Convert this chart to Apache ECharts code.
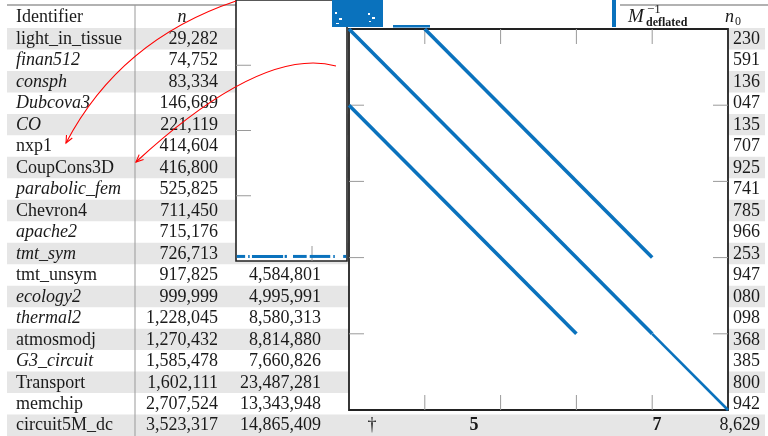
<!DOCTYPE html>
<html>
<head>
<meta charset="utf-8">
<script src="https://cdn.jsdelivr.net/npm/echarts@6/dist/echarts.min.js"></script>
<style>
  html, body { margin: 0; padding: 0; background: #fff; }
  #chart { width: 768px; height: 436px; }
</style>
</head>
<body>
<div id="chart"></div>
<script>
// ---- table data ----
const identifiers = ['light_in_tissue', 'finan512', 'consph', 'Dubcova3', 'CO', 'nxp1', 'CoupCons3D',
  'parabolic_fem', 'Chevron4', 'apache2', 'tmt_sym', 'tmt_unsym', 'ecology2', 'thermal2', 'atmosmodj',
  'G3_circuit', 'Transport', 'memchip', 'circuit5M_dc'];
const italicName = [false, true, true, true, true, false, false, true, false, true, true, false, true, true,
  false, true, false, false, false];
const nValues = [29282, 74752, 83334, 146689, 221119, 414604, 416800, 525825, 711450, 715176, 726713,
  917825, 999999, 1228045, 1270432, 1585478, 1602111, 2707524, 3523317];
// nnz column: only the rows below the small pattern panel are shown
const nnzValues = [null, null, null, null, null, null, null, null, null, null, null,
  4584801, 4995991, 8580313, 8814880, 7660826, 23487281, 13343948, 14865409];
// right-most column (n0), trailing digits that stay visible beside the large panel
const n0Tails = ['230', '591', '136', '047', '135', '707', '925', '741', '785', '966', '253', '947', '080',
  '098', '368', '385', '800', '942', '8,629'];
// summary marks in the last row
const footerMarks = ['\u2020', '5', '7'];

// ---- sparsity pattern of the large panel (block units, 5x5 blocks) ----
const blockCount = 5;
const blockTicks = [1, 2, 3, 4];
const mainDiagonal = [[0, 0], [4, 4]];
const mainDiagonalTail = [[4, 4], [5, 5]];
const upperBand = [[1, 0], [4, 3]];
const lowerBand = [[0, 1], [3, 4]];

// ---- small panel: ticks and scattered nonzeros along its last row (block units) ----
const smallRowTicks = [1, 2, 3];
const smallColTicks = [1];
const smallPanelRow = 3.93;
const smallPanelRuns = [[0.01, 0.12], [0.16, 0.18], [0.21, 0.62], [0.64, 0.67], [0.75, 0.93],
  [0.97, 1.24], [1.28, 1.30], [1.41, 1.45]];

// ---- partially visible pattern pieces along the top edge (page units) ----
const topPieces = [[332, 383, 0, 27], [393, 430, 25, 27.5], [612, 616, 0, 27]];
// white gaps inside the dense top piece
const topGaps = [[335, 337, 12, 14], [339, 342, 18, 20], [336, 339, 23, 24], [368, 370, 13, 15],
  [372, 375, 17, 19], [369, 371, 21, 22]];

// ---- annotation arrows: start, control point, end (page units) ----
const arrows = [
  [236, 1, 120, 40, 66, 143],
  [336, 66, 262, 46, 136, 162]
];

// ---- layout / style constants ----
const FONT = '"Liberation Serif", "Times New Roman", serif';
const TEXT = '#1a1a1a';
const SHADE = '#e6e6e6';
const BLUE = '#0a72bd';
const TICK = '#9a9a9a';
const TICK_LEN = 15;
const colIdLeft = 16, colNRight = 218, colNnzRight = 321, colN0Right = 760;
const shadeFrom = 7, shadeTo = 765;
const footerX = [372, 474, 657];
const footerBold = [false, true, true];

const fmt = v => v.toLocaleString('en-US');

function txt(x, y, s, align, font) {
  return { type: 'text', style: { x: x, y: y, text: s, align: align, verticalAlign: 'middle', font: font, fill: TEXT } };
}

function renderRow(params, api) {
  const i = api.value(1);
  const band = api.size([0, 1])[1];
  const yc = api.coord([0, i])[1];
  const X = v => api.coord([v, i])[0];
  const kids = [];
  if (i % 2 === 0) {
    kids.push({ type: 'rect', shape: { x: X(shadeFrom), y: yc - band / 2, width: X(shadeTo) - X(shadeFrom), height: band },
      style: { fill: SHADE } });
  }
  kids.push(txt(X(colIdLeft), yc + 0.5, identifiers[i], 'left', (italicName[i] ? 'italic ' : '') + '18px ' + FONT));
  kids.push(txt(X(colNRight), yc + 0.5, fmt(nValues[i]), 'right', '18px ' + FONT));
  if (nnzValues[i] != null) kids.push(txt(X(colNnzRight), yc + 0.5, fmt(nnzValues[i]), 'right', '18px ' + FONT));
  kids.push(txt(X(colN0Right), yc + 0.5, n0Tails[i], 'right', '18px ' + FONT));
  if (i === identifiers.length - 1) {
    footerMarks.forEach((m, k) => {
      kids.push(txt(X(footerX[k]), yc + 0.5, m, 'center', (footerBold[k] ? 'bold ' : '') + '18px ' + FONT));
    });
  }
  return { type: 'group', children: kids };
}

// short grey ticks pointing into a pattern panel; data item: [position, side]
// side 0 = bottom, 1 = top, 2 = left, 3 = right
function tickRenderer(xMax, yMax) {
  return function (params, api) {
    const v = api.value(0), side = api.value(1);
    let p, d;
    if (side === 0) { p = api.coord([v, yMax]); d = [0, -TICK_LEN]; }
    else if (side === 1) { p = api.coord([v, 0]); d = [0, TICK_LEN]; }
    else if (side === 2) { p = api.coord([0, v]); d = [TICK_LEN, 0]; }
    else { p = api.coord([xMax, v]); d = [-TICK_LEN, 0]; }
    return { type: 'line', shape: { x1: p[0], y1: p[1], x2: p[0] + d[0], y2: p[1] + d[1] },
      style: { stroke: TICK, lineWidth: 1 } };
  };
}

function renderRuns(params, api) {
  const a = api.coord([api.value(0), api.value(2)]);
  const b = api.coord([api.value(1), api.value(2)]);
  return { type: 'rect', shape: { x: a[0], y: a[1] - 1.5, width: Math.max(b[0] - a[0], 1.5), height: 3 }, style: { fill: BLUE } };
}

function pieceRenderer(color) {
  return function (params, api) {
    const a = api.coord([api.value(0), api.value(2)]);
    const b = api.coord([api.value(1), api.value(3)]);
    return { type: 'rect', shape: { x: a[0], y: a[1], width: b[0] - a[0], height: b[1] - a[1] }, style: { fill: color } };
  };
}

function renderArrow(params, api) {
  const p0 = api.coord([api.value(0), api.value(1)]);
  const c = api.coord([api.value(2), api.value(3)]);
  const p1 = api.coord([api.value(4), api.value(5)]);
  const dx = p1[0] - c[0], dy = p1[1] - c[1];
  const L = Math.hypot(dx, dy);
  const ux = dx / L, uy = dy / L;
  const hl = 8, ang = 0.42;
  const rot = (a) => [p1[0] - hl * (ux * Math.cos(a) - uy * Math.sin(a)), p1[1] - hl * (ux * Math.sin(a) + uy * Math.cos(a))];
  return {
    type: 'group',
    children: [
      { type: 'bezierCurve', shape: { x1: p0[0], y1: p0[1], cpx1: c[0], cpy1: c[1], x2: p1[0], y2: p1[1] },
        style: { stroke: '#ff0000', fill: 'none', lineWidth: 1.1 } },
      { type: 'polyline', shape: { points: [rot(ang), p1, rot(-ang)] },
        style: { stroke: '#ff0000', fill: 'none', lineWidth: 1.1 } }
    ]
  };
}

const valueAxis = (gi, min, max, extra) => Object.assign({
  gridIndex: gi, type: 'value', min: min, max: max, show: false
}, extra || {});

const chart = echarts.init(document.getElementById('chart'), null, { renderer: 'canvas' });

const smallColMax = 111 / 76;
const smallRowMax = 4;

const option = {
  animation: false,
  backgroundColor: '#ffffff',
  grid: [
    // 0: table body
    { left: 0, top: 28, width: 768, height: 408, show: false },
    // 1: small pattern panel
    { left: 236, top: -44, width: 111, height: 305, show: true, backgroundColor: '#ffffff',
      borderColor: '#222', borderWidth: 1.6, z: 3 },
    // 2: large pattern panel
    { left: 349, top: 29, width: 379, height: 381, show: true, backgroundColor: '#ffffff',
      borderColor: '#222', borderWidth: 1.8, z: 6 },
    // 3: page overlay (top pieces, arrows)
    { left: 0, top: 0, width: 768, height: 436, show: false }
  ],
  xAxis: [
    valueAxis(0, 0, 768),
    valueAxis(1, 0, smallColMax),
    valueAxis(2, 0, blockCount),
    valueAxis(3, 0, 768)
  ],
  yAxis: [
    { gridIndex: 0, type: 'category', data: identifiers, inverse: true, show: false },
    valueAxis(1, 0, smallRowMax, { inverse: true }),
    valueAxis(2, 0, blockCount, { inverse: true }),
    valueAxis(3, 0, 436, { inverse: true })
  ],
  graphic: [
    { type: 'line', z: 1, shape: { x1: 7, y1: 5, x2: 236, y2: 5 }, style: { stroke: '#666', lineWidth: 1.2 } },
    { type: 'line', z: 1, shape: { x1: 620, y1: 5, x2: 768, y2: 5 }, style: { stroke: '#666', lineWidth: 1.2 } },
    { type: 'line', z: 2, shape: { x1: 135, y1: 5, x2: 135, y2: 436 }, style: { stroke: '#999', lineWidth: 1 } },
    { type: 'text', z: 2, style: { x: 16, y: 17, text: 'Identifier', font: '18px ' + FONT, fill: TEXT, verticalAlign: 'middle' } },
    { type: 'text', z: 2, style: { x: 182, y: 17, text: 'n', font: 'italic 18px ' + FONT, fill: TEXT, align: 'center', verticalAlign: 'middle' } },
    { type: 'text', z: 2, style: { x: 628, y: 17, text: 'M', font: 'italic 19px ' + FONT, fill: TEXT, verticalAlign: 'middle' } },
    { type: 'text', z: 2, style: { x: 647, y: 10, text: '\u22121', font: '13px ' + FONT, fill: TEXT, verticalAlign: 'middle' } },
    { type: 'text', z: 2, style: { x: 646, y: 23, text: 'deflated', font: 'bold 12px ' + FONT, fill: TEXT, verticalAlign: 'middle' } },
    { type: 'text', z: 2, style: { x: 725, y: 17, text: 'n', font: 'italic 18px ' + FONT, fill: TEXT, verticalAlign: 'middle' } },
    { type: 'text', z: 2, style: { x: 735, y: 22, text: '0', font: '12px ' + FONT, fill: TEXT, verticalAlign: 'middle' } }
  ],
  series: [
    {
      type: 'custom', name: 'table', xAxisIndex: 0, yAxisIndex: 0, z: 1, clip: false,
      renderItem: renderRow,
      data: identifiers.map((_, i) => [0, i])
    },
    {
      type: 'custom', name: 'small panel ticks', xAxisIndex: 1, yAxisIndex: 1, z: 4, clip: false,
      renderItem: tickRenderer(smallColMax, smallRowMax),
      data: smallRowTicks.map(v => [v, 2]).concat(smallColTicks.map(v => [v, 0]))
    },
    {
      type: 'custom', name: 'small panel', xAxisIndex: 1, yAxisIndex: 1, z: 5, clip: true,
      renderItem: renderRuns,
      data: smallPanelRuns.map(r => [r[0], r[1], smallPanelRow])
    },
    {
      type: 'custom', name: 'top pieces', xAxisIndex: 3, yAxisIndex: 3, z: 5, clip: false,
      renderItem: pieceRenderer(BLUE),
      data: topPieces
    },
    {
      type: 'custom', name: 'top gaps', xAxisIndex: 3, yAxisIndex: 3, z: 5.5, clip: false,
      renderItem: pieceRenderer('#ffffff'),
      data: topGaps
    },
    {
      type: 'custom', name: 'block ticks', xAxisIndex: 2, yAxisIndex: 2, z: 7, clip: false,
      renderItem: tickRenderer(blockCount, blockCount),
      data: [0, 1, 2, 3].flatMap(side => blockTicks.map(v => [v, side]))
    },
    {
      type: 'line', name: 'diagonal', xAxisIndex: 2, yAxisIndex: 2, z: 8, showSymbol: false, symbol: 'none',
      lineStyle: { color: BLUE, width: 3.6 }, data: mainDiagonal
    },
    {
      type: 'line', name: 'diagonal tail', xAxisIndex: 2, yAxisIndex: 2, z: 8, showSymbol: false, symbol: 'none',
      lineStyle: { color: BLUE, width: 2.6 }, data: mainDiagonalTail
    },
    {
      type: 'line', name: 'upper band', xAxisIndex: 2, yAxisIndex: 2, z: 8, showSymbol: false, symbol: 'none',
      lineStyle: { color: BLUE, width: 3.6 }, data: upperBand
    },
    {
      type: 'line', name: 'lower band', xAxisIndex: 2, yAxisIndex: 2, z: 8, showSymbol: false, symbol: 'none',
      lineStyle: { color: BLUE, width: 3.6 }, data: lowerBand
    },
    {
      type: 'custom', name: 'arrows', xAxisIndex: 3, yAxisIndex: 3, z: 12, clip: false,
      renderItem: renderArrow,
      data: arrows
    }
  ]
};

chart.setOption(option);
</script>
</body>
</html>
